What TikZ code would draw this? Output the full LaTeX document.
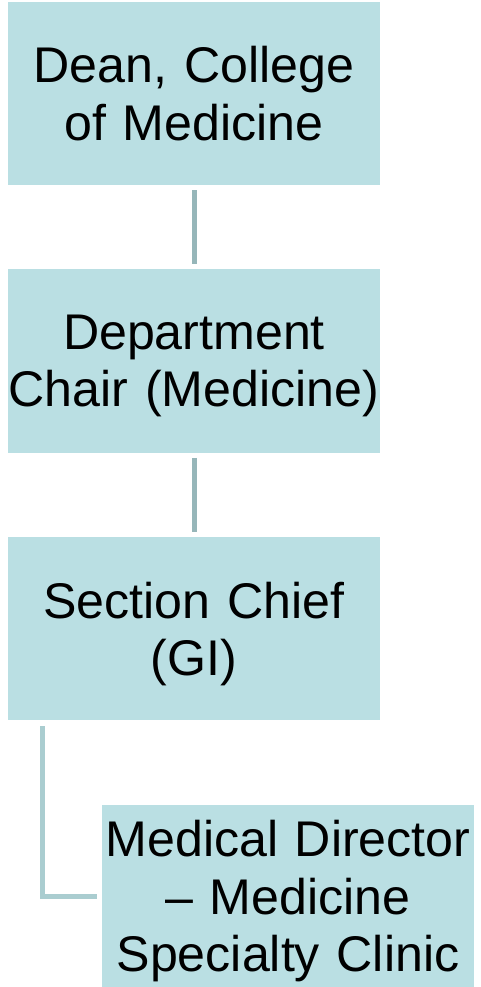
\documentclass[tikz,border=0pt]{standalone}
\usepackage{fontspec}
\setmainfont{Liberation Sans}
\usetikzlibrary{calc}
\definecolor{boxfill}{RGB}{186,223,227}
\definecolor{linkdark}{RGB}{150,182,185}
\definecolor{linklight}{RGB}{170,205,208}
\begin{document}
\begin{tikzpicture}[x=0.75pt,y=0.75pt,yscale=-1,xscale=1,
  box/.style={fill=boxfill,minimum width=279pt,text width=279pt,align=center,inner sep=0pt,
    font=\fontsize{37.6}{43}\selectfont},
  twolines/.style={text depth=43pt},
  threelines/.style={text depth=86pt},
  link/.style={draw=linkdark,line width=3.75pt}]
\useasboundingbox (0,0) rectangle (481,987);

\node (dean) [box,twolines,minimum height=137.25pt] at (194,93.5) {Dean, College\\of Medicine};
\node (chair) [box,twolines,minimum height=137.25pt] at (194,361) {Department\\Chair (Medicine)};
\node (chief) [box,twolines,minimum height=137.25pt] at (194,628.5) {Section Chief\\(GI)};
\node (dir) [box,threelines,minimum height=136.5pt] at (288,896) {Medical Director\\– Medicine\\Specialty Clinic};

\draw [link,shorten <=3.75pt,shorten >=3.75pt] (dean) -- (chair);
\draw [link,shorten <=3.75pt,shorten >=3.75pt] (chair) -- (chief);
%\draw [link] (chief) -- (dir);
\draw [link,draw=linklight] ($(chief.south west)+(35,6)$) |- ($(dir.west)+(-5,0)$);

\end{tikzpicture}
\end{document}
